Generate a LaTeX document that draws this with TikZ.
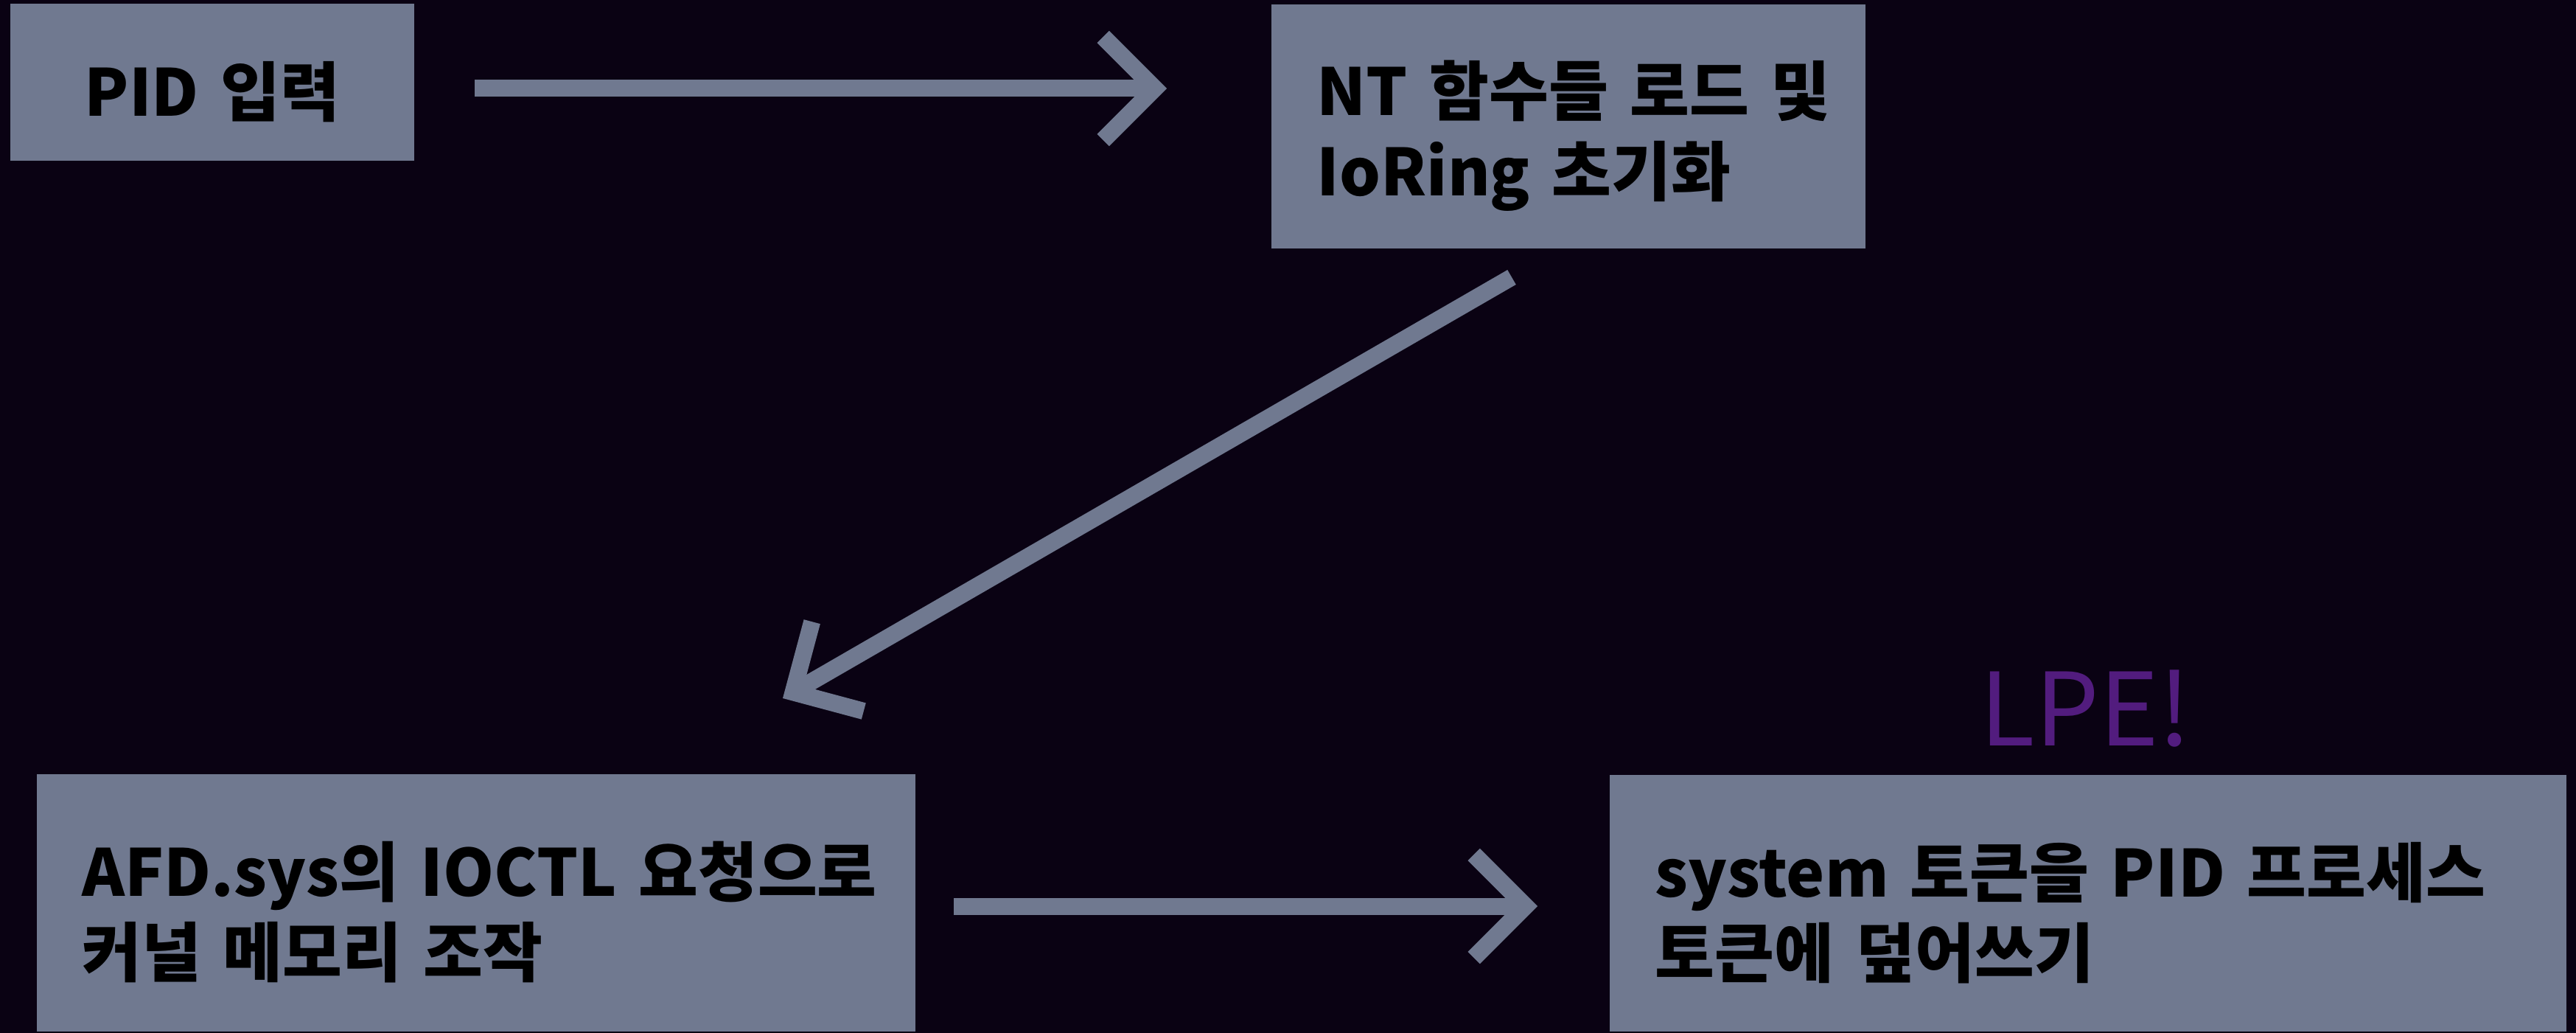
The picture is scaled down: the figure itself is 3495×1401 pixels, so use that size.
\documentclass[tikz,border=0pt]{standalone}
\usepackage{fontspec}
\newfontfamily\krfont{Noto Sans CJK KR}
\usetikzlibrary{arrows.meta}
\definecolor{bgdark}{HTML}{0A0213}
\definecolor{boxgray}{HTML}{707990}
\definecolor{lpepurple}{HTML}{521C7E}
\def\flowends{{(644,120)/a1s}, {(1583,120)/a1e}, {(2051,376)/a2s}, {(1062,947)/a2e}, {(1294,1229)/a3s}, {(2086,1229)/a3e}}
\def\flowlinks{a1s/a1e, a2s/a2e, a3s/a3e}
\tikzstyle{stepbox}=[rectangle, fill=boxgray, anchor=north west, inner xsep=0.62cm, inner ysep=0pt, align=left, text=black, font={\krfont\bfseries\fontsize{25pt}{31pt}\selectfont}]
\tikzstyle{flow}=[draw, boxgray, line width=0.23cm, -{Straight Barb[length=0.7cm,width=1.4cm]}]
\tikzstyle{shout}=[anchor=base, text=lpepurple, inner sep=0pt, font={\krfont\fontsize{39pt}{39pt}\selectfont}]
\newcommand{\lowstrut}{\rule{0pt}{1.0cm}}

\begin{document}
\begin{tikzpicture}[x=0.01cm, y=-0.01cm]
  \fill[bgdark] (0,0) rectangle (3495,1401);
  \useasboundingbox (0,0) rectangle (3495,1401);

  % First we draw the boxes
  \node[stepbox, align=center, text width=4.24cm, minimum height=2.13cm] (input) at (13,4) {\lowstrut PID 입력};
  \node[stepbox, text width=6.82cm, minimum height=3.31cm] (init) at (1724,5) {\lowstrut\mbox{NT 함수들 로드 및}\\\mbox{IoRing 초기화}};
  \node[stepbox, text width=10.68cm, minimum height=3.49cm] (ioctl) at (49,1049) {\lowstrut\mbox{AFD.sys의 IOCTL 요청으로}\\\mbox{커널 메모리 조작}};
  \node[stepbox, text width=11.73cm, minimum height=3.48cm] (token) at (2183,1050) {\lowstrut\mbox{system 토큰을 PID 프로세스}\\\mbox{토큰에 덮어쓰기}};
  \node[shout] (lpe) at (2830,1011) {LPE!};

  % Free ends of the arrows
  \foreach \pos/\name in \flowends
    \node[coordinate] (\name) at \pos {};

  % Connect them
  \foreach \source/\dest in \flowlinks
    \path[flow] (\source) -- (\dest);
\end{tikzpicture}
\end{document}
